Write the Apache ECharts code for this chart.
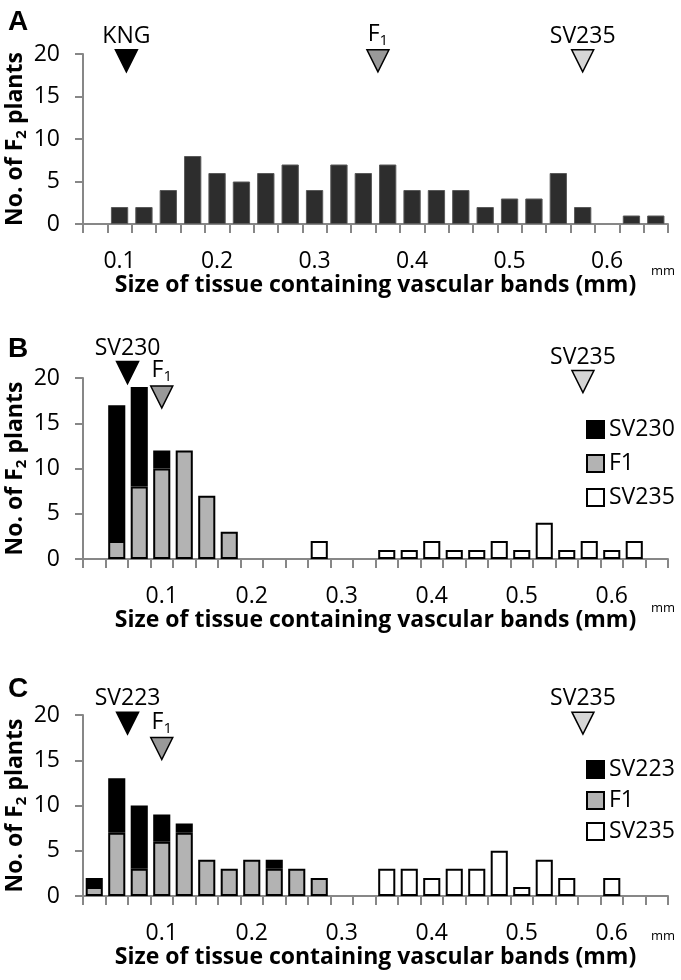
<!DOCTYPE html>
<html><head><meta charset="utf-8">
<script src="https://cdn.jsdelivr.net/npm/echarts@6.0.0/dist/echarts.min.js"></script>
<style>html,body{margin:0;padding:0;background:#fff}#c{width:681px;height:980px}</style>
</head><body><div id="c"></div>
<script>
// ---------- data ----------
const binsA = ['0.075','0.1','0.125','0.15','0.175','0.2','0.225','0.25','0.275','0.3','0.325','0.35','0.375','0.4','0.425','0.45','0.475','0.5','0.525','0.55','0.575','0.6','0.625','0.65'];
const binsBC = ['0.025','0.05','0.075','0.1','0.125','0.15','0.175','0.2','0.225','0.25','0.275','0.3','0.325','0.35','0.375','0.4','0.425','0.45','0.475','0.5','0.525','0.55','0.575','0.6','0.625','0.65'];
const tickLabels = ['0.1','0.2','0.3','0.4','0.5','0.6'];

const countsA = [null,2,2,4,8,6,5,6,7,4,7,6,7,4,4,4,2,3,3,6,2,null,1,1];

const f1B    = [null,2,8,10,12,7,3,null,null,null,null,null,null,null,null,null,null,null,null,null,null,null,null,null,null,null];
const sv230B = [null,15,11,2,null,null,null,null,null,null,null,null,null,null,null,null,null,null,null,null,null,null,null,null,null,null];
const sv235B = [null,null,null,null,null,null,null,null,null,null,2,null,null,1,1,2,1,1,2,1,4,1,2,1,2,null];

const f1C    = [1,7,3,6,7,4,3,4,3,3,2,null,null,null,null,null,null,null,null,null,null,null,null,null,null,null];
const sv223C = [1,6,7,3,1,null,null,null,1,null,null,null,null,null,null,null,null,null,null,null,null,null,null,null,null,null];
const sv235C = [null,null,null,null,null,null,null,null,null,null,null,null,null,3,3,2,3,3,5,1,4,2,null,2,null,null];

// parental / F1 means (mm) and label heights (count units)
const markerNamesA = ['KNG','F1','SV235'];
const markerXA = [0.107,0.365,0.575];
const markerYA = [19.2,19.2,19.2];
const markerNamesB = ['SV230','F1','SV235'];
const markerXB = [0.062,0.100,0.568];
const markerYB = [20.6,17.9,19.6];
const markerNamesC = ['SV223','F1','SV235'];
const markerXC = [0.062,0.100,0.568];
const markerYC = [19.1,16.3,19.1];

// ---------- styling ----------
const FONT = 'Open Sans';
const AX = '#878787';
const markerFill = ['#000000','#999999','#d6d6d6'];
const grids = [
  {left:83, top:54, width:585, height:170},
  {left:83, top:378, width:585, height:181},
  {left:83, top:715, width:585, height:181}
];

function catAxis(g, bins){
  return {
    type:'category', gridIndex:g, data:bins, boundaryGap:true,
    axisLine:{lineStyle:{color:AX,width:2}},
    axisTick:{show:true,interval:0,length:9,lineStyle:{color:AX,width:2}},
    axisLabel:{interval:0,margin:26,fontSize:23,color:'#000',fontFamily:FONT,
      formatter:v=>tickLabels.includes(v)?v:''},
    name:'Size of tissue containing vascular bands (mm)',
    nameLocation:'middle', nameGap:50, nameMoveOverlap:false,
    nameTextStyle:{fontSize:23,fontWeight:'bold',color:'#000',fontFamily:FONT}
  };
}
function valXAxis(g, bins){
  const lo = parseFloat(bins[0]) - 0.0125, hi = parseFloat(bins[bins.length-1]) + 0.0125;
  return {type:'value', gridIndex:g, min:lo, max:hi, show:false};
}
function yAxis(g){
  return {
    type:'value', gridIndex:g, min:0, max:20, interval:5,
    splitLine:{show:false},
    axisLine:{show:true,lineStyle:{color:AX,width:2}},
    axisTick:{show:true,length:8,lineStyle:{color:AX,width:2}},
    axisLabel:{margin:23,fontSize:23,color:'#000',fontFamily:FONT},
    name:'{b|No. of F}{s|2}{b| plants}',
    nameLocation:'middle', nameRotate:90, nameGap:54, nameMoveOverlap:false,
    nameTextStyle:{rich:{
      b:{fontSize:23,fontWeight:'bold',color:'#000',fontFamily:FONT},
      s:{fontSize:15,fontWeight:'bold',color:'#000',fontFamily:FONT,padding:[12,0,0,0]}
    }}
  };
}
function markerSeries(g, names, xs, ys){
  return {
    type:'scatter', xAxisIndex:3+g, yAxisIndex:g, clip:false, z:10,
    symbol:'triangle', symbolRotate:180, symbolSize:[22,22],
    data:names.map((n,i)=>({
      value:[xs[i],ys[i]], name:n,
      itemStyle:{color:markerFill[i],borderColor:'#000',borderWidth:1.5,opacity:1},
      label:{formatter: n==='F1' ? '{a|F}{s|1}' : '{a|'+n+'}'}
    })),
    label:{show:true,position:'top',distance:1,opacity:1,color:'#000',
      rich:{a:{fontSize:23,color:'#000',fontFamily:FONT},
            s:{fontSize:15,color:'#000',fontFamily:FONT,padding:[12,0,0,0]}}},
    emphasis:{disabled:true}, silent:true
  };
}
const barBase = {type:'bar', barCategoryGap:'24%', emphasis:{disabled:true}};
const blk = {color:'#000',borderColor:'#000',borderWidth:2};
const gry = {color:'#b3b3b3',borderColor:'#000',borderWidth:2};
const wht = {color:'#fff',borderColor:'#000',borderWidth:2};
const letterStyle = {fontSize:28,fontWeight:'bold',color:'#000',fontFamily:'Liberation Sans'};
const mmStyle = {fontSize:13,fontWeight:'normal',color:'#000',fontFamily:FONT};

const option = {
  animation:false,
  backgroundColor:'#fff',
  textStyle:{fontFamily:FONT},
  title:[
    {text:'A',left:3,top:3,textStyle:letterStyle},
    {text:'B',left:3,top:330,textStyle:letterStyle},
    {text:'C',left:3,top:670,textStyle:letterStyle},
    {text:'mm',left:646,top:260,textStyle:mmStyle},
    {text:'mm',left:646,top:597,textStyle:mmStyle},
    {text:'mm',left:646,top:925,textStyle:mmStyle}
  ],
  legend:[
    {data:['SV230','F1','SV235'],orient:'vertical',left:581,top:413,itemWidth:17,itemHeight:17,itemGap:11,
     textStyle:{fontSize:23,color:'#000',fontFamily:FONT},icon:'rect',selectedMode:false},
    {data:['SV223','F1','SV235'],orient:'vertical',left:581,top:753,itemWidth:17,itemHeight:17,itemGap:8,
     textStyle:{fontSize:23,color:'#000',fontFamily:FONT},icon:'rect',selectedMode:false}
  ],
  grid:grids.map(g=>Object.assign({outerBoundsMode:'none'},g)),
  xAxis:[catAxis(0,binsA),catAxis(1,binsBC),catAxis(2,binsBC),valXAxis(0,binsA),valXAxis(1,binsBC),valXAxis(2,binsBC)],
  yAxis:[yAxis(0),yAxis(1),yAxis(2)],
  series:[
    Object.assign({},barBase,{name:'countA',xAxisIndex:0,yAxisIndex:0,barCategoryGap:'29%',data:countsA,
      itemStyle:{color:'#2d2d2d',borderColor:'#5a5a5a',borderWidth:1}}),
    Object.assign({},barBase,{name:'F1',xAxisIndex:1,yAxisIndex:1,stack:'b',data:f1B,itemStyle:gry}),
    Object.assign({},barBase,{name:'SV230',xAxisIndex:1,yAxisIndex:1,stack:'b',data:sv230B,itemStyle:blk}),
    Object.assign({},barBase,{name:'SV235',xAxisIndex:1,yAxisIndex:1,stack:'b',data:sv235B,itemStyle:wht}),
    Object.assign({},barBase,{name:'F1',xAxisIndex:2,yAxisIndex:2,stack:'c',data:f1C,itemStyle:gry}),
    Object.assign({},barBase,{name:'SV223',xAxisIndex:2,yAxisIndex:2,stack:'c',data:sv223C,itemStyle:blk}),
    Object.assign({},barBase,{name:'SV235',xAxisIndex:2,yAxisIndex:2,stack:'c',data:sv235C,itemStyle:wht}),
    markerSeries(0,markerNamesA,markerXA,markerYA),
    markerSeries(1,markerNamesB,markerXB,markerYB),
    markerSeries(2,markerNamesC,markerXC,markerYC)
  ]
};
const chart = echarts.init(document.getElementById('c'));
chart.setOption(option);
</script>
</body></html>
